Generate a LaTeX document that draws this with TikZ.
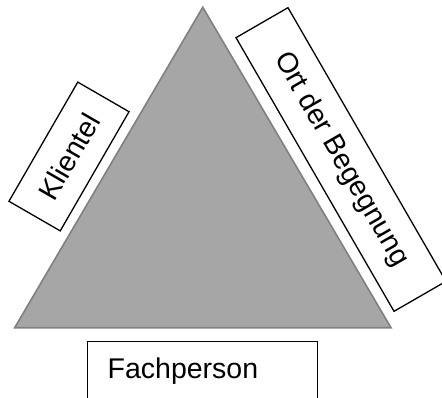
\documentclass[tikz,border=0pt]{standalone}
\usepackage{fontspec}
\setmainfont{Liberation Sans}
\begin{document}
\begin{tikzpicture}[x=1pt,y=-1pt,
  labelfont/.style={font=\fontsize{28.5}{34}\selectfont},
  tagbox/.style={draw=black, line width=1.3pt, fill=white, labelfont, inner sep=0pt},
  tri/.style={fill=triFill, draw=triEdge, line width=1.6pt, line join=miter}]
  \definecolor{triFill}{HTML}{A6A6A6}
  \definecolor{triEdge}{HTML}{808080}
  \useasboundingbox (0,0) rectangle (442,398);
  \clip (0,0) rectangle (442,398);

  % the triangle
  \coordinate (apex) at (202.8,7.3);
  \coordinate (right) at (391,327.7);
  \coordinate (left) at (14.7,327.7);
  \draw[tri] (apex) -- (right) -- (left) -- cycle;

  % labels along the sides
  \node (klientel) [tagbox, rotate=60, minimum width=137.6pt, minimum height=59.2pt]
    at (69,156.5) {Klientel};
  \node (ort) [tagbox, rotate=-60, minimum width=316pt, minimum height=60pt]
    at (341,159.5) {Ort der Begegnung};
  \node (fach) [tagbox, anchor=north west, text width=190pt, align=left,
    inner xsep=20pt, inner ysep=16pt, text depth=60pt]
    at (87,341) {Fachperson};
\end{tikzpicture}
\end{document}
